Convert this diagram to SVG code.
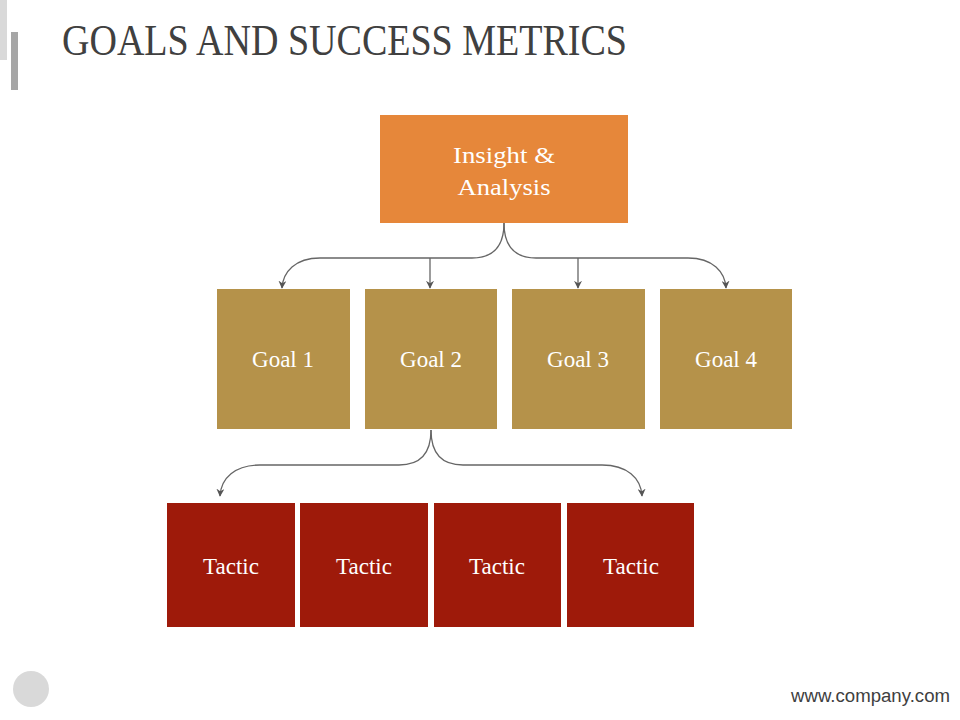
<svg xmlns="http://www.w3.org/2000/svg" width="960" height="720" viewBox="0 0 960 720">
<defs>
<style>
.lbl{font-family:"Liberation Serif","DejaVu Serif",serif;fill:#fff;text-anchor:middle;font-size:23px}
.con{fill:none;stroke:#666;stroke-width:1.3}
</style>
<marker id="ah" viewBox="0 0 10 10" refX="9" refY="5" markerWidth="8" markerHeight="8" markerUnits="userSpaceOnUse" orient="auto">
<path d="M0,0 L10,5 L0,10 L3,5 Z" fill="#555"/>
</marker>
</defs>
<rect width="960" height="720" fill="#fff"/>
<rect x="0" y="0" width="7" height="60" fill="#d9d9d9"/>
<rect x="11" y="32" width="7" height="58" fill="#a6a6a6"/>
<text x="62" y="55" font-family="Liberation Serif,DejaVu Serif,serif" font-size="44" fill="#404040" textLength="565" lengthAdjust="spacingAndGlyphs">GOALS AND SUCCESS METRICS</text>

<g id="connectors">
<path class="con" d="M504,223 C504,245 495,258 472,258 L320,258 C295,258 283,272 282,288" marker-end="url(#ah)"/>
<path class="con" d="M504,223 C504,245 513,258 536,258 L688,258 C713,258 725,272 726,288" marker-end="url(#ah)"/>
<path class="con" d="M430,258 L430,288" marker-end="url(#ah)"/>
<path class="con" d="M578,258 L578,288" marker-end="url(#ah)"/>
<path class="con" d="M431,430 C431,452 422,465 399,465 L260,465 C235,465 221,478 220,496" marker-end="url(#ah)"/>
<path class="con" d="M431,430 C431,452 440,465 463,465 L602,465 C627,465 641,478 642,496" marker-end="url(#ah)"/>
</g>

<g id="insight">
<rect x="380" y="115" width="248" height="108" fill="#e6873a"/>
<text class="lbl" x="504" y="163" font-size="26" textLength="102" lengthAdjust="spacingAndGlyphs">Insight &amp;</text>
<text class="lbl" x="504" y="195" font-size="26" textLength="93" lengthAdjust="spacingAndGlyphs">Analysis</text>
</g>
<g id="goal1"><rect x="217" y="289" width="133" height="140" fill="#b5924a"/><text class="lbl" x="283" y="367">Goal 1</text></g>
<g id="goal2"><rect x="365" y="289" width="132" height="140" fill="#b5924a"/><text class="lbl" x="431" y="367">Goal 2</text></g>
<g id="goal3"><rect x="512" y="289" width="133" height="140" fill="#b5924a"/><text class="lbl" x="578" y="367">Goal 3</text></g>
<g id="goal4"><rect x="660" y="289" width="132" height="140" fill="#b5924a"/><text class="lbl" x="726" y="367">Goal 4</text></g>
<g id="tactic1"><rect x="167" y="503" width="128" height="124" fill="#9e1a0a"/><text class="lbl" x="231" y="574" font-size="25">Tactic</text></g>
<g id="tactic2"><rect x="300" y="503" width="128" height="124" fill="#9e1a0a"/><text class="lbl" x="364" y="574" font-size="25">Tactic</text></g>
<g id="tactic3"><rect x="434" y="503" width="127" height="124" fill="#9e1a0a"/><text class="lbl" x="497" y="574" font-size="25">Tactic</text></g>
<g id="tactic4"><rect x="567" y="503" width="127" height="124" fill="#9e1a0a"/><text class="lbl" x="631" y="574" font-size="25">Tactic</text></g>

<circle cx="31" cy="689" r="18" fill="#d9d9d9"/>
<text x="950" y="702" text-anchor="end" font-family="Liberation Sans,Arial,sans-serif" font-size="18" fill="#404040" textLength="159" lengthAdjust="spacingAndGlyphs">www.company.com</text>
</svg>
